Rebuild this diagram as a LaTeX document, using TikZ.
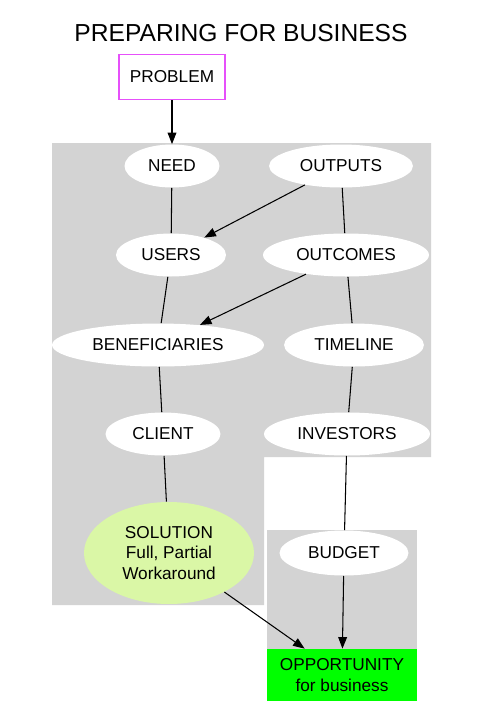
\documentclass[tikz,border=0pt]{standalone}
\usepackage{fontspec}
\setmainfont{Liberation Sans}
\usetikzlibrary{shapes.geometric}
\usetikzlibrary{arrows.meta}

\definecolor{boxgrey}{HTML}{D3D3D3}
\definecolor{probline}{RGB}{230,80,250}
\definecolor{solgreen}{HTML}{DAF7A6}

\begin{document}
\begin{tikzpicture}
			[x=0.02cm, y=-0.02cm,
			 every node/.style={font=\fontsize{9.8}{11.6}\selectfont,inner sep=0pt},
			 step ellipse/.style={ellipse,fill=white,minimum height=0.86cm},
			 connect/.style={line width=0.6pt},
			 arrowin/.style={connect,{Triangle[length=6.6pt,width=5pt]}-},
			 arrowout/.style={connect,-{Triangle[length=6.6pt,width=5pt]}}]
			\useasboundingbox (0,0) rectangle (497,728);

			% grey clusters
			\fill [boxgrey] (52,143) -- (431,143) -- (431,457) -- (264,457)
			  -- (264,605) -- (52,605) -- cycle;
			\fill [boxgrey] (267,530) rectangle (417,650);

			\node (title) at (241,33) {\fontsize{14}{16}\selectfont PREPARING FOR BUSINESS};
			\node (problem) at (172,77) [draw=probline,line width=0.6pt,fill=white,
			  minimum width=2.12cm,minimum height=0.9cm] {PROBLEM};

			\node (need) at (172,166) [step ellipse,minimum width=1.9cm] {NEED}
			  edge [arrowin] (problem);
			\node (outputs) at (341,166) [step ellipse,minimum width=2.88cm] {OUTPUTS};
			\node (users) at (171,255) [step ellipse,minimum width=2.2cm] {USERS}
			  edge [connect] (need)
			  edge [arrowin] (outputs);
			\node (outcomes) at (346,255) [step ellipse,minimum width=3.32cm] {OUTCOMES}
			  edge [connect] (outputs);
			\node (benef) at (158,345) [step ellipse,minimum width=4.24cm] {BENEFICIARIES}
			  edge [connect] (users)
			  edge [arrowin] (outcomes);
			\node (timeline) at (354,345) [step ellipse,minimum width=2.8cm] {TIMELINE}
			  edge [connect] (outcomes);
			\node (client) at (163,434) [step ellipse,minimum width=2.3cm] {CLIENT}
			  edge [connect] (benef);
			\node (investors) at (347,434) [step ellipse,minimum width=3.32cm] {INVESTORS}
			  edge [connect] (timeline);
			\node (solution) at (169,553) [step ellipse,fill=solgreen,align=center,
			  minimum width=3.4cm,minimum height=2.04cm] {SOLUTION\\Full, Partial\\Workaround}
			  edge [connect] (client);
			\node (budget) at (344,553) [step ellipse,minimum width=2.58cm,minimum height=0.9cm] {BUDGET}
			  edge [connect] (investors);
			\node (opport) at (342,675) [fill=green,align=center,
			  minimum width=3cm,minimum height=1.04cm] {OPPORTUNITY\\for business}
			  edge [arrowin] (solution)
			  edge [arrowin] (budget);
\end{tikzpicture}
\end{document}
